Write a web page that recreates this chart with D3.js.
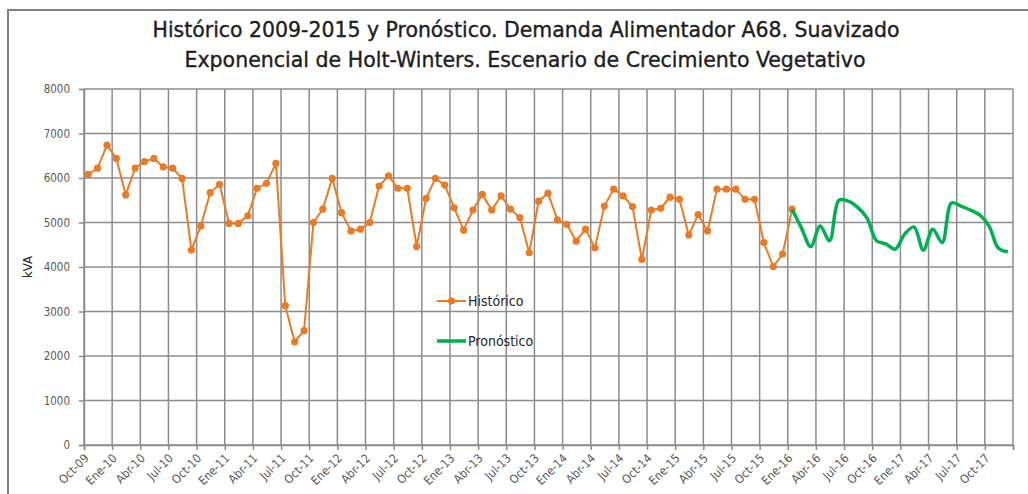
<!DOCTYPE html>
<html>
<head>
<meta charset="utf-8">
<script src="https://cdn.jsdelivr.net/npm/d3@7"></script>
<style>
  body { margin: 0; background: #ffffff; }
  svg { display: block; }
</style>
</head>
<body>
<svg id="chart" width="1028" height="494"></svg>
<script>
// Quarterly tick labels (Oct-09 ... Oct-17)
const tickLabels = [
  "Oct-09","Ene-10","Abr-10","Jul-10","Oct-10","Ene-11","Abr-11","Jul-11",
  "Oct-11","Ene-12","Abr-12","Jul-12","Oct-12","Ene-13","Abr-13","Jul-13",
  "Oct-13","Ene-14","Abr-14","Jul-14","Oct-14","Ene-15","Abr-15","Jul-15",
  "Oct-15","Ene-16","Abr-16","Jul-16","Oct-16","Ene-17","Abr-17","Jul-17",
  "Oct-17"
];

// Monthly demand, kVA, Oct-09 to Ene-16
const historico = [
  6080, 6220, 6740, 6440, 5620, 6220, 6370, 6440, 6250, 6220, 5990, 4380,
  4920, 5670, 5860, 4980, 4980, 5150, 5770, 5880, 6330, 3130, 2320, 2570,
  5000, 5300, 5990, 5220, 4810, 4850, 5000, 5820, 6050, 5770, 5770, 4460,
  5540, 5990, 5840, 5330, 4830, 5280, 5630, 5280, 5600, 5300, 5110, 4320,
  5480, 5660, 5060, 4960, 4580, 4850, 4430, 5370, 5750, 5600, 5360, 4170,
  5280, 5320, 5570, 5520, 4720, 5180, 4810, 5750, 5750, 5750, 5520, 5520,
  4550, 4010, 4290, 5300
];

// Holt-Winters forecast, kVA, Ene-16 to Dic-17
const pronostico = [
  5300, 4880, 4460, 4920, 4590, 5500, 5480, 5340, 5100, 4590, 4520, 4400,
  4740, 4900, 4380, 4850, 4550, 5440, 5370, 5280, 5170, 4920, 4420, 4340
];

const yTicks = [0, 1000, 2000, 3000, 4000, 5000, 6000, 7000, 8000];

const titleLines = [
  "Histórico 2009-2015  y Pronóstico. Demanda Alimentador A68. Suavizado",
  "Exponencial de Holt-Winters.  Escenario de Crecimiento  Vegetativo"
];

const forecastStart = historico.length - 1;   // month index where the forecast begins
const totalMonths = 99;                        // Oct-09 .. Ene-18
const dayOffset = 0.45;                        // values are dated mid-month

const svg = d3.select("#chart");
const plot = { left: 84, right: 1013, top: 89, bottom: 445 };

const x = d3.scaleLinear().domain([0, totalMonths]).range([plot.left, plot.right]);
const y = d3.scaleLinear().domain([0, 8000]).range([plot.bottom, plot.top]);

const gridColor = "#8c8c8c";
const axisText = "#595959";
const orange = "#EB7A22";
const green = "#00B050";
const font = "'Liberation Sans Narrow', 'DejaVu Sans Condensed', 'Open Sans', sans-serif";

// Outer frame
svg.append("path")
  .attr("d", "M8,500 L8,10 L1030,10")
  .attr("fill", "none")
  .attr("stroke", "#7f7f7f")
  .attr("stroke-width", 2);

// Title
svg.selectAll("text.title")
  .data(titleLines)
  .join("text")
  .attr("class", "title")
  .attr("x", (d, i) => i === 0 ? 526 : 525)
  .attr("y", (d, i) => 37 + i * 30)
  .attr("text-anchor", "middle")
  .attr("font-family", font)
  .attr("font-size", 21)
  .attr("fill", "#1e1e1e")
  .attr("stroke", "#1e1e1e")
  .attr("stroke-width", 0.35)
  .attr("textLength", (d, i) => i === 0 ? 747 : 681)
  .attr("lengthAdjust", "spacingAndGlyphs")
  .text(d => d);

// Gridlines
const xTickValues = d3.range(0, totalMonths + 1, 3);
svg.append("g")
  .selectAll("line")
  .data(xTickValues)
  .join("line")
  .attr("x1", d => x(d)).attr("x2", d => x(d))
  .attr("y1", plot.top).attr("y2", plot.bottom)
  .attr("stroke", gridColor).attr("stroke-width", 1.5);

svg.append("g")
  .selectAll("line")
  .data(yTicks)
  .join("line")
  .attr("x1", plot.left).attr("x2", plot.right)
  .attr("y1", d => y(d)).attr("y2", d => y(d))
  .attr("stroke", gridColor).attr("stroke-width", 1.5);

// Y axis
const yAxis = svg.append("g")
  .attr("transform", `translate(${plot.left},0)`)
  .call(d3.axisLeft(y).tickValues(yTicks).tickSize(5).tickPadding(9).tickFormat(d3.format("d")));
yAxis.select(".domain").attr("stroke", gridColor).attr("stroke-width", 1.5);
yAxis.selectAll(".tick line").attr("stroke", gridColor).attr("stroke-width", 1.5);
yAxis.selectAll(".tick text")
  .attr("font-family", font).attr("font-size", 11.5).attr("fill", axisText);

// X axis
const xAxis = svg.append("g")
  .attr("transform", `translate(0,${plot.bottom})`)
  .call(d3.axisBottom(x).tickValues(xTickValues).tickSize(5)
    .tickFormat(d => tickLabels[d / 3] || ""));
xAxis.select(".domain").attr("stroke", gridColor).attr("stroke-width", 1.5);
xAxis.selectAll(".tick line").attr("stroke", gridColor).attr("stroke-width", 1.5);
xAxis.selectAll(".tick text")
  .attr("font-family", font).attr("font-size", 12).attr("fill", axisText)
  .attr("text-anchor", "end")
  .attr("y", 0).attr("dy", 0)
  .attr("transform", "translate(5,14) rotate(-45)");

// Axis title
svg.append("text")
  .attr("transform", "translate(32,267) rotate(-90)")
  .attr("text-anchor", "middle")
  .attr("font-family", font).attr("font-size", 13).attr("fill", "#262626")
  .text("kVA");

// Historical series
const histPts = historico.map((v, i) => [x(i + dayOffset), y(v)]);
svg.append("path")
  .attr("d", d3.line()(histPts))
  .attr("fill", "none")
  .attr("stroke", orange)
  .attr("stroke-width", 2);

svg.append("g")
  .selectAll("circle")
  .data(histPts)
  .join("circle")
  .attr("cx", d => d[0]).attr("cy", d => d[1])
  .attr("r", 3.6)
  .attr("fill", orange);

// Forecast series (smoothed)
const fcPts = pronostico.map((v, i) => [x(forecastStart + i + dayOffset), y(v)]);
svg.append("path")
  .attr("d", d3.line().curve(d3.curveCatmullRom.alpha(0.5))(fcPts))
  .attr("fill", "none")
  .attr("stroke", green)
  .attr("stroke-width", 3.5)
  .attr("stroke-linejoin", "round");

// Legend
const legend = svg.append("g");
legend.append("line")
  .attr("x1", 437).attr("x2", 466).attr("y1", 301).attr("y2", 301)
  .attr("stroke", orange).attr("stroke-width", 2);
legend.append("circle")
  .attr("cx", 451.5).attr("cy", 301).attr("r", 3.6).attr("fill", orange);
legend.append("text")
  .attr("x", 468).attr("y", 301).attr("dy", "0.35em")
  .attr("font-family", font).attr("font-size", 14).attr("fill", "#262626")
  .text("Histórico");
legend.append("line")
  .attr("x1", 437).attr("x2", 466).attr("y1", 341).attr("y2", 341)
  .attr("stroke", green).attr("stroke-width", 3.5);
legend.append("text")
  .attr("x", 468).attr("y", 341).attr("dy", "0.35em")
  .attr("font-family", font).attr("font-size", 14).attr("fill", "#262626")
  .text("Pronóstico");
</script>
</body>
</html>
